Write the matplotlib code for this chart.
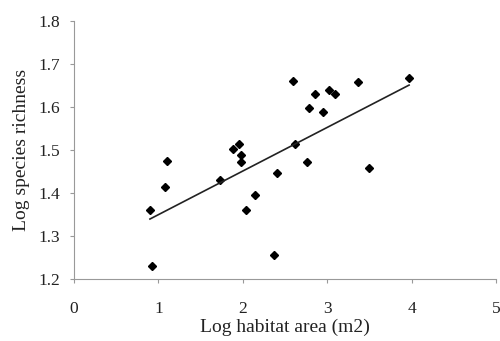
import numpy as np
import matplotlib.pyplot as plt

# log habitat area vs log species richness
log_area = [0.90, 0.93, 1.08, 1.10, 1.73, 1.88, 1.96, 1.98, 1.98, 2.04,
            2.14, 2.37, 2.40, 2.59, 2.62, 2.76, 2.78, 2.85, 2.95, 3.02,
            3.09, 3.37, 3.50, 3.97]
log_rich = [1.361, 1.230, 1.413, 1.474, 1.430, 1.502, 1.515, 1.488, 1.473, 1.360,
            1.395, 1.254, 1.446, 1.660, 1.515, 1.473, 1.599, 1.631, 1.588, 1.641,
            1.630, 1.659, 1.458, 1.669]

# trend line (intercept, slope)
trend = [1.2474, 0.1018]

plt.rcParams['font.family'] = ['Liberation Serif', 'DejaVu Serif']

fig = plt.figure(figsize=(5, 3.41), dpi=100)
ax = fig.add_axes([0.148, 0.183, 0.844, 0.754])

x = np.array(log_area)
y = np.array(log_rich)
ax.plot(x, y, 'D', color='black', ms=4.5, mec='black')

xl = np.array([x.min(), x.max()])
ax.plot(xl, trend[0] + trend[1] * xl, color='#222222', lw=1.2)

ax.set_xlim(0, 5)
ax.set_ylim(1.2, 1.8)
ax.set_xticks([0, 1, 2, 3, 4, 5])
ax.set_yticks([1.2, 1.3, 1.4, 1.5, 1.6, 1.7, 1.8])
ax.set_yticklabels(['1.2', '1.3', '1.4', '1.5', '1.6', '1.7', '1.8'])

for s in ['top', 'right']:
    ax.spines[s].set_visible(False)
for s in ['left', 'bottom']:
    ax.spines[s].set_color('#999999')
    ax.spines[s].set_linewidth(0.8)
ax.tick_params(colors='#999999', labelcolor='#222222', labelsize=12.5,
               length=3, width=0.8)
ax.tick_params(axis='y', pad=7)
ax.tick_params(axis='x', pad=13)

ax.set_xlabel('Log habitat area (m2)', fontsize=14, color='#222222', labelpad=1)
ax.set_ylabel('Log species richness', fontsize=14, color='#222222', labelpad=6)

fig.savefig('out.png', dpi=100)
